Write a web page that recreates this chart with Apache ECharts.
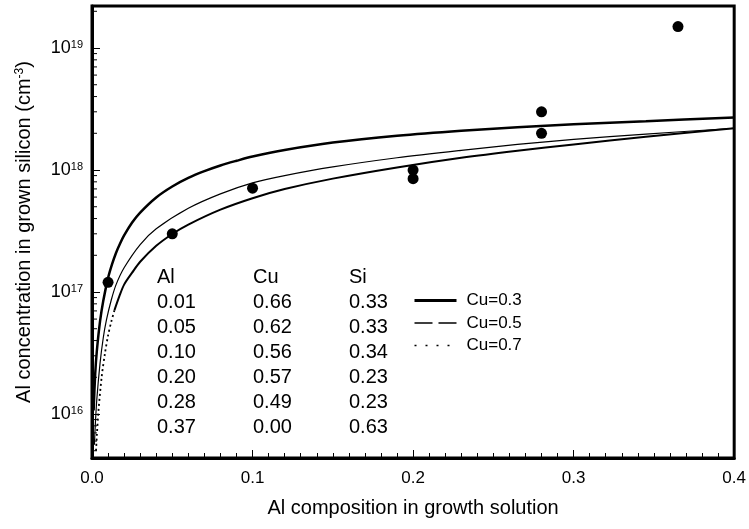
<!DOCTYPE html>
<html>
<head>
<meta charset="utf-8">
<style>
    html, body { margin: 0; padding: 0; background: #fff; }
    #main { width: 749px; height: 529px; }
</style>
<script src="https://cdn.jsdelivr.net/npm/echarts@6/dist/echarts.min.js"></script>
</head>
<body>
<div id="main"></div>
<script>
// 数据
var curve03X = [0.001, 0.002, 0.003, 0.005, 0.007, 0.01, 0.0125, 0.015, 0.0175, 0.02, 0.025, 0.03, 0.04, 0.05, 0.06, 0.07, 0.08, 0.09, 0.1, 0.12, 0.15, 0.19, 0.23, 0.265, 0.3, 0.345, 0.4];
var curve03Y = [1.07e16, 2.14e16, 3.27e16, 5.74e16, 8.45e16, 1.3e17, 1.69e17, 2.1e17, 2.5e17, 2.91e17, 3.71e17, 4.48e17, 5.96e17, 7.33e17, 8.61e17, 9.79e17, 1.09e18, 1.19e18, 1.29e18, 1.46e18, 1.68e18, 1.91e18, 2.1e18, 2.24e18, 2.37e18, 2.51e18, 2.7e18];

var curve05X = [0.0015, 0.002, 0.003, 0.005, 0.007, 0.009, 0.012, 0.015, 0.02, 0.03, 0.04, 0.06, 0.08, 0.1, 0.12, 0.15, 0.19, 0.23, 0.265, 0.3, 0.345, 0.4];
var curve05Y = [5.6e15, 7.9e15, 1.32e16, 2.6e16, 4.2e16, 5.9e16, 8.6e16, 1.15e17, 1.58e17, 2.45e17, 3.3e17, 4.86e17, 6.38e17, 7.85e17, 9.0e17, 1.06e18, 1.26e18, 1.45e18, 1.62e18, 1.78e18, 1.97e18, 2.2e18];

// Cu=0.7 陡峭段（点线）
var curve07DotX = [0.0025, 0.003, 0.004, 0.006, 0.008, 0.01, 0.012, 0.014];
var curve07DotY = [5.0e15, 6.6e15, 1.05e16, 2.0e16, 3.1e16, 4.4e16, 5.7e16, 7.1e16];
// Cu=0.7 平缓段
var curve07X = [0.014, 0.017, 0.02, 0.025, 0.03, 0.04, 0.05, 0.06, 0.08, 0.1, 0.12, 0.15, 0.19, 0.23, 0.265, 0.3, 0.345, 0.4];
var curve07Y = [7.1e16, 9.2e16, 1.15e17, 1.44e17, 1.77e17, 2.39e17, 2.99e17, 3.57e17, 4.73e17, 5.87e17, 6.98e17, 8.5e17, 1.05e18, 1.26e18, 1.44e18, 1.62e18, 1.87e18, 2.2e18];

// 实验点
var pointX = [0.01, 0.05, 0.1, 0.2, 0.2, 0.28, 0.28, 0.365];
var pointY = [1.2e17, 3.0e17, 7.1e17, 1.0e18, 8.5e17, 3.0e18, 2.0e18, 1.5e19];

// 表格文字
var tableHead = ["Al", "Cu", "Si"];
var tableAl = ["0.01", "0.05", "0.10", "0.20", "0.28", "0.37"];
var tableCu = ["0.66", "0.62", "0.56", "0.57", "0.49", "0.00"];
var tableSi = ["0.33", "0.33", "0.34", "0.23", "0.23", "0.63"];

var legendNames = ["Cu=0.3", "Cu=0.5", "Cu=0.7"];

(function () {
    var myChart = echarts.init(document.getElementById("main"));
    var FONT = "Liberation Sans, Arial, sans-serif";
    var yMin = 4.36e15, yMax = 2.21e19;

    function pairs(xs, ys) {
        return xs.map(function (x, i) { return [x, ys[i]]; });
    }

    // y轴对数次刻度 2..9 x 10^n
    var minorY = [];
    for (var e = 15; e <= 19; e++) {
        for (var m = 2; m <= 9; m++) {
            var v = m * Math.pow(10, e);
            if (v > yMin && v < yMax) minorY.push([0, v]);
        }
    }

    // 表格
    var graphics = [];
    var colX = [157, 253, 349];
    var cols = [tableAl, tableCu, tableSi];
    for (var c = 0; c < 3; c++) {
        graphics.push({
            type: 'text', left: colX[c], top: 267,
            style: { text: tableHead[c], font: '20px ' + FONT, fill: '#000' }
        });
        for (var r = 0; r < cols[c].length; r++) {
            graphics.push({
                type: 'text', left: colX[c], top: 292 + r * 25,
                style: { text: cols[c][r], font: '20px ' + FONT, fill: '#000' }
            });
        }
    }

    // 图例不显示圆点
    var noDot = { opacity: 0 };

    var option = {
        animation: false,
        textStyle: { fontFamily: FONT, color: '#000' },
        grid: {
            left: 92, right: 11, top: 6, bottom: 71,
            show: true, borderColor: '#000', borderWidth: 3
        },
        legend: {
            orient: 'vertical',
            left: 413, top: 292,
            padding: 0,
            itemWidth: 42, itemHeight: 14, itemGap: 5.5,
            textStyle: { fontSize: 17, color: '#000', fontFamily: FONT, padding: [0, 0, 0, 5] },
            data: [
                { name: legendNames[0], itemStyle: noDot, lineStyle: { width: 3, type: 'solid' } },
                { name: legendNames[1], itemStyle: noDot, lineStyle: { width: 1.3, type: [18, 6] } },
                { name: legendNames[2], itemStyle: noDot, lineStyle: { width: 1.5, type: [2, 9] } }
            ]
        },
        xAxis: {
            type: 'value',
            min: 0, max: 0.4, interval: 0.1,
            name: 'Al composition in growth solution',
            nameLocation: 'middle', nameGap: 40,
            nameTextStyle: { fontSize: 20, color: '#000', fontFamily: FONT },
            axisLine: { lineStyle: { color: '#000', width: 3 } },
            axisTick: { inside: true, length: 8, lineStyle: { color: '#000', width: 1 } },
            minorTick: { show: true, splitNumber: 10, length: 5, lineStyle: { color: '#000', width: 1 } },
            axisLabel: {
                fontSize: 17, color: '#000', margin: 12,
                formatter: function (v) { return v.toFixed(1); }
            },
            splitLine: { show: false }
        },
        yAxis: {
            type: 'log',
            min: yMin, max: yMax,
            name: 'Al concentration in grown silicon (cm{sup|-3})',
            nameLocation: 'middle', nameGap: 58,
            nameTextStyle: {
                fontSize: 20, color: '#000', fontFamily: FONT,
                rich: { sup: { fontSize: 12, verticalAlign: 'top', fontFamily: FONT } }
            },
            axisLine: { lineStyle: { color: '#000', width: 3 } },
            axisTick: { inside: true, length: 8, lineStyle: { color: '#000', width: 1 } },
            axisLabel: {
                showMinLabel: false, showMaxLabel: false, margin: 9,
                formatter: function (v) {
                    var e = Math.round(Math.log10(v));
                    return '{b|10}{s|' + e + '}';
                },
                rich: {
                    b: { fontSize: 18, color: '#000', fontFamily: FONT },
                    s: { fontSize: 11, color: '#000', fontFamily: FONT, verticalAlign: 'top' }
                }
            },
            splitLine: { show: false }
        },
        graphic: graphics,
        series: [
            {
                name: legendNames[0], type: 'line', symbol: 'none', smooth: 0.3,
                lineStyle: { color: '#000', width: 2.5 }, itemStyle: { color: '#000' },
                data: pairs(curve03X, curve03Y)
            },
            {
                name: legendNames[1], type: 'line', symbol: 'none', smooth: 0.3,
                lineStyle: { color: '#000', width: 1.2 }, itemStyle: { color: '#000' },
                data: pairs(curve05X, curve05Y)
            },
            {
                name: legendNames[2], type: 'line', symbol: 'none', smooth: 0.3,
                lineStyle: { color: '#000', width: 2 }, itemStyle: { color: '#000' },
                data: pairs(curve07X, curve07Y)
            },
            {
                name: legendNames[2], type: 'line', symbol: 'none', smooth: 0.3,
                lineStyle: { color: '#000', width: 1.8, type: [2, 3] }, itemStyle: { color: '#000' },
                data: pairs(curve07DotX, curve07DotY)
            },
            {
                type: 'scatter', symbol: 'circle', symbolSize: 11,
                itemStyle: { color: '#000', opacity: 1 },
                data: pairs(pointX, pointY)
            },
            {
                // y轴次刻度
                type: 'custom', silent: true, clip: false,
                renderItem: function (params, api) {
                    var p = api.coord([0, api.value(1)]);
                    return {
                        type: 'line',
                        shape: { x1: p[0], y1: p[1], x2: p[0] + 5, y2: p[1] },
                        style: { stroke: '#000', lineWidth: 1 }
                    };
                },
                data: minorY
            }
        ]
    };
    myChart.setOption(option);
    window.addEventListener("resize", function () {
        myChart.resize();
    })
})();
</script>
</body>
</html>
